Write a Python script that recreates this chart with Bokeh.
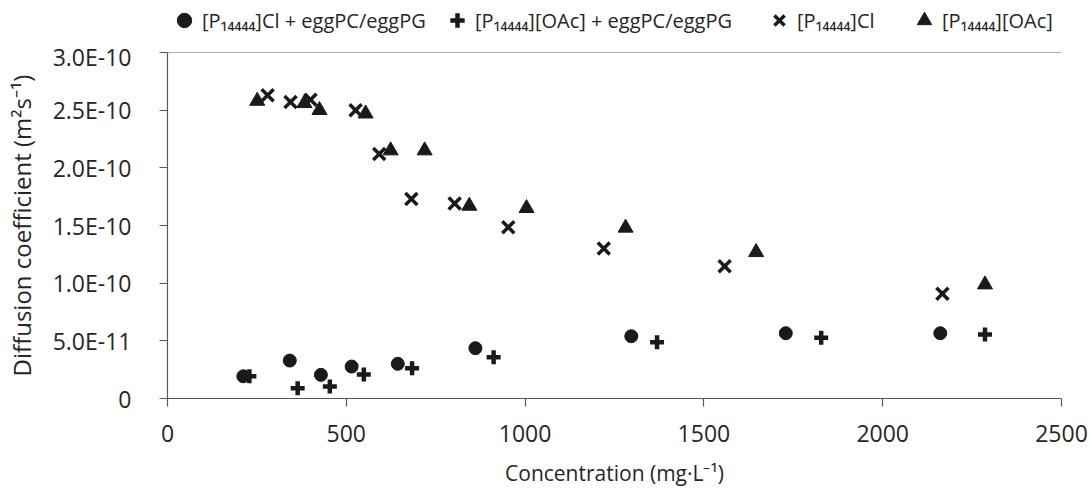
from bokeh.plotting import figure
from bokeh.layouts import column
from bokeh.models import (Range1d, FixedTicker, CustomJSTickFormatter, Span,
                          Legend, LegendItem)
from bokeh.embed import file_html
from bokeh.resources import INLINE

# ---- data ----
cl_lip_x = [212, 342, 429, 515, 644, 861, 1297, 1729, 2161]
cl_lip_y = [1.93e-11, 3.29e-11, 2.05e-11, 2.77e-11, 3.01e-11, 4.36e-11, 5.40e-11, 5.66e-11, 5.66e-11]

oac_lip_x = [229, 364, 454, 549, 684, 912, 1369, 1828, 2286]
oac_lip_y = [1.93e-11, 0.89e-11, 1.04e-11, 2.08e-11, 2.63e-11, 3.58e-11, 4.88e-11, 5.26e-11, 5.55e-11]

cl_x = [280, 344, 400, 526, 592, 682, 803, 953, 1220, 1558, 2167]
cl_y = [2.63e-10, 2.57e-10, 2.59e-10, 2.50e-10, 2.12e-10, 1.73e-10, 1.69e-10, 1.485e-10, 1.30e-10, 1.147e-10, 0.908e-10]

oac_x = [251, 383, 425, 554, 624, 719, 844, 1004, 1281, 1646, 2286]
oac_y = [2.58e-10, 2.56e-10, 2.50e-10, 2.47e-10, 2.15e-10, 2.15e-10, 1.67e-10, 1.65e-10, 1.48e-10, 1.268e-10, 0.988e-10]

labels = ["[P\u2081\u2084\u2084\u2084\u2084]Cl + eggPC/eggPG",
          "[P\u2081\u2084\u2084\u2084\u2084][OAc] + eggPC/eggPG",
          "[P\u2081\u2084\u2084\u2084\u2084]Cl",
          "[P\u2081\u2084\u2084\u2084\u2084][OAc]"]

x_ticks = [0, 500, 1000, 1500, 2000, 2500]
y_ticks = [0, 5e-11, 1e-10, 1.5e-10, 2e-10, 2.5e-10, 3e-10]

FONT = "Open Sans"
TXT = "#262626"
AX = "#595959"
MK = "#1a1a1a"

styles = [dict(marker="circle", size=13, fill_color=MK, line_color=MK),
          dict(marker="cross", size=14, line_width=4.5, line_color=MK),
          dict(marker="x", size=17, line_width=3.5, line_color=MK),
          dict(marker="triangle", size=15, fill_color=MK, line_color=MK)]
series = [(cl_lip_x, cl_lip_y), (oac_lip_x, oac_lip_y), (cl_x, cl_y), (oac_x, oac_y)]

# ---- main plot ----
p = figure(width=1090, height=452, output_backend="svg", toolbar_location=None,
           x_range=Range1d(0, 2500), y_range=Range1d(0, 3e-10),
           min_border_left=167, min_border_right=29, min_border_top=12, min_border_bottom=94)
p.outline_line_color = None
p.xgrid.grid_line_color = None
p.ygrid.grid_line_color = None
p.background_fill_color = "white"
p.border_fill_color = "white"

p.add_layout(Span(location=3e-10, dimension="width", line_color=AX, line_width=1.2))

for (xs, ys), st in zip(series, styles):
    p.scatter(xs, ys, **st)

for ax in (p.xaxis[0], p.yaxis[0]):
    ax.axis_line_color = AX
    ax.axis_line_width = 1.2
    ax.major_tick_line_color = AX
    ax.major_tick_line_width = 1.2
    ax.major_tick_out = 8
    ax.major_tick_in = 0
    ax.minor_tick_line_color = None
    ax.major_label_text_font = FONT
    ax.major_label_text_font_size = "23px"
    ax.major_label_text_color = TXT
    ax.axis_label_text_font = FONT
    ax.axis_label_text_font_style = "normal"
    ax.axis_label_text_color = TXT

p.xaxis.axis_label_text_font_size = "21px"
p.yaxis.axis_label_text_font_size = "24px"
p.xaxis.ticker = FixedTicker(ticks=x_ticks)
p.yaxis.ticker = FixedTicker(ticks=y_ticks)
p.yaxis.formatter = CustomJSTickFormatter(code="""
    if (Math.abs(tick) < 1e-15) { return "0"; }
    return tick.toExponential(1).toUpperCase();
""")
p.xaxis.major_label_standoff = 18
p.yaxis.major_label_standoff = 28
p.xaxis.axis_label = "Concentration (mg\u00b7L\u207b\u00b9)"
p.yaxis.axis_label = "Diffusion coefficient (m\u00b2s\u207b\u00b9)"
p.xaxis.axis_label_standoff = 14
p.yaxis.axis_label_standoff = 12

# ---- legend strip above the plot (frames are aligned, so x is relative to x=167) ----
lf = figure(width=1090, height=40, output_backend="svg", toolbar_location=None,
            x_range=Range1d(-10, -9), y_range=Range1d(-10, -9),
            x_axis_type=None, y_axis_type=None,
            min_border_left=0, min_border_right=0, min_border_top=0, min_border_bottom=0)
lf.outline_line_color = None
lf.xgrid.grid_line_color = None
lf.ygrid.grid_line_color = None

legend_x = [-1, 272, 594, 739]
legend_standoff = [-4, -3, 0, -5]
for (xs, ys), st, lab, px, so in zip(series, styles, labels, legend_x, legend_standoff):
    r = lf.scatter(xs, ys, **st)  # same data; outside this strip's view, used only for the key
    lg = Legend(items=[LegendItem(label=lab, renderers=[r])],
                location=(px, 2), orientation="horizontal",
                glyph_width=36, glyph_height=36, label_height=20,
                label_standoff=so, padding=0, margin=0, spacing=0,
                border_line_color=None, background_fill_alpha=0,
                label_text_font=FONT, label_text_font_size="20px",
                label_text_color=TXT)
    lf.add_layout(lg, "center")

open("out.html", "w").write(file_html(column(lf, p, spacing=0), INLINE))
